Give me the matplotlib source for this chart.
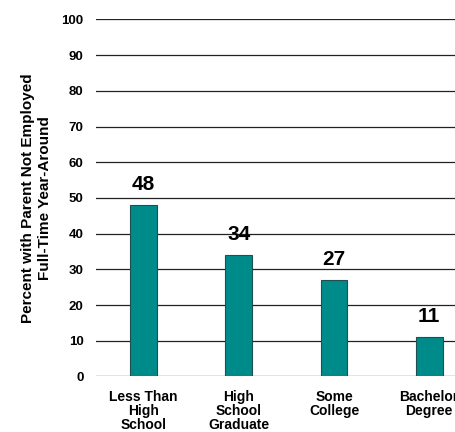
import matplotlib.pyplot as plt

categories = ['Less Than\nHigh\nSchool', 'High\nSchool\nGraduate', 'Some\nCollege', 'Bachelor\nDegree']
values = [48, 34, 27, 11]
yticks = [0, 10, 20, 30, 40, 50, 60, 70, 80, 90, 100]

plt.rcParams['font.family'] = 'Liberation Sans'
plt.rcParams['font.weight'] = 'bold'

fig = plt.figure(figsize=(4.55, 4.32), dpi=100)
# axes runs past the right edge, so the last label is clipped
ax = fig.add_axes([0.211, 0.1285, 0.837, 0.8265])

x = range(len(categories))
ax.bar(x, values, width=0.28, color='#008B8B', edgecolor='#1f4f4f', linewidth=0.8, zorder=3)

for xi, v in zip(x, values):
    ax.annotate(str(v), (xi, v), xytext=(0, 8), textcoords='offset points',
                ha='center', va='bottom', fontsize=15, fontweight='bold')

ax.set_xlim(-0.5, 3.5)
ax.set_ylim(0, 100)
ax.set_yticks(yticks)
ax.set_xticks(list(x))
ax.set_xticklabels(categories, fontsize=10, fontweight='bold', linespacing=1.0)
ax.tick_params(axis='both', length=0)
ax.tick_params(axis='y', labelsize=9.5, pad=9)
ax.tick_params(axis='x', pad=10)
ax.yaxis.grid(True, color='#222222', linewidth=0.9, zorder=0)
ax.set_axisbelow(True)
for s in ax.spines.values():
    s.set_visible(False)

ax.set_ylabel('Percent with Parent Not Employed\nFull-Time Year-Around',
              fontsize=11, fontweight='bold', labelpad=7, linespacing=1.2)

fig.savefig('out.png', dpi=100)
